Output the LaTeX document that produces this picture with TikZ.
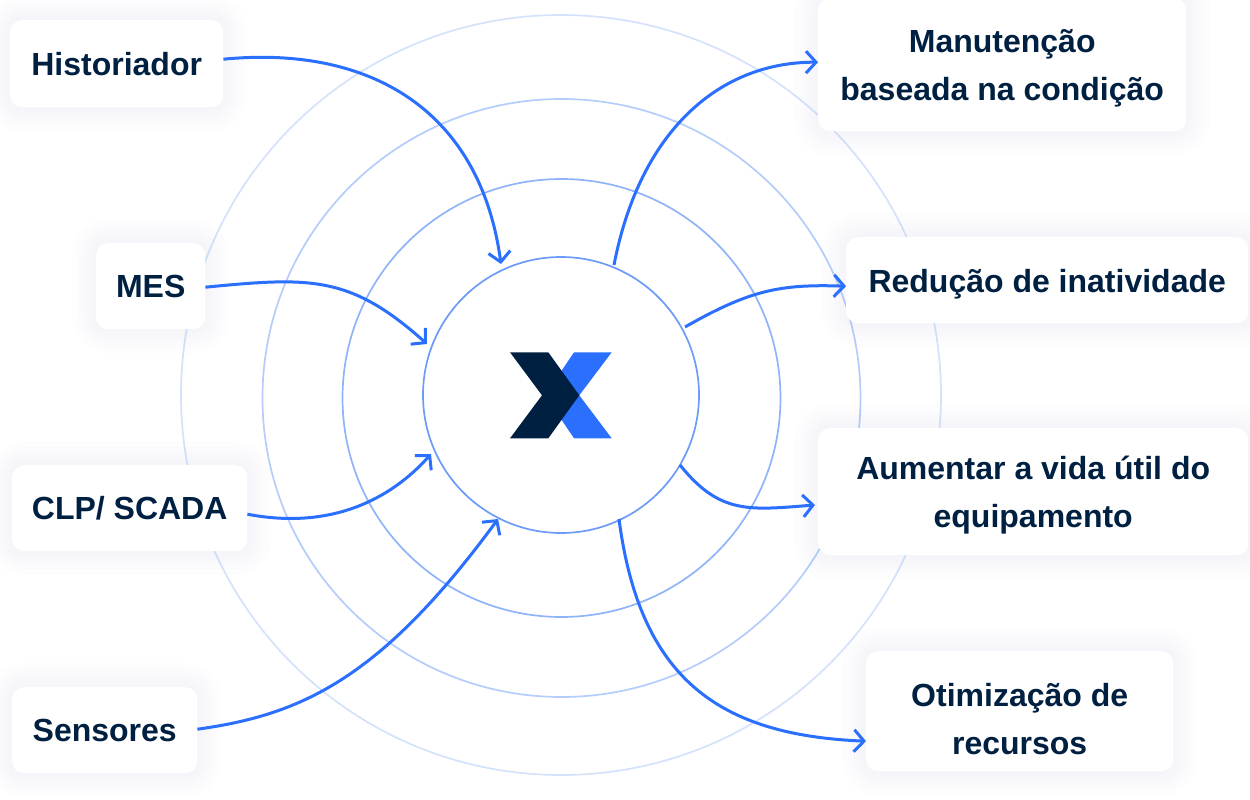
\documentclass[tikz,border=0pt]{standalone}
\usepackage{fontspec}
\setmainfont{Liberation Sans}
\usetikzlibrary{arrows.meta}
\definecolor{inkdark}{HTML}{002042}
\definecolor{linkblue}{HTML}{2B6FFF}
\definecolor{ringa}{HTML}{6C9CF8}
\definecolor{ringb}{HTML}{8FB4FA}
\definecolor{ringc}{HTML}{B5CDFB}
\definecolor{ringd}{HTML}{D5E2FC}
\definecolor{shade}{HTML}{4A6A9A}
\newcommand{\topgap}[1]{\rule{0pt}{#1pt}}
\newcommand{\botgap}{\rule[-7pt]{0pt}{7pt}}
\tikzset{
  x=1pt,y=-1pt,
  ringnode/.style={circle,draw=#1,line width=1.7pt,minimum size=0pt,inner sep=0pt,fill=none},
  softshadow/.style={
    preaction={draw=shade,draw opacity=.006,line width=48pt},
    preaction={draw=shade,draw opacity=.006,line width=36pt},
    preaction={draw=shade,draw opacity=.006,line width=26pt},
    preaction={draw=shade,draw opacity=.006,line width=16pt},
    preaction={draw=shade,draw opacity=.006,line width=8pt}},
  card/.style={softshadow,rectangle,rounded corners=12pt,fill=white,text=inkdark,
    font=\fontsize{32}{48}\selectfont\bfseries,align=center,inner sep=0pt,anchor=north west},
  link/.style={draw=linkblue,line width=3pt,-{Straight Barb[length=10pt,width=22pt,line width=3pt]}},
}
\begin{document}
\begin{tikzpicture}
\useasboundingbox (0,0) rectangle (1250,800);
\fill[white] (0,0) rectangle (1250,800);
\node[ringnode=ringd,minimum size=760pt] (r4) at (561,395) {};
\node[ringnode=ringc,minimum size=598pt] (r3) at (561.5,398) {};
\node[ringnode=ringb,minimum size=438pt] (r2) at (561.5,398) {};
\node[ringnode=ringa,minimum size=276pt] (hub) at (561,395) {};
% logo
\fill[linkblue] (574,352.3) -- (611.7,352.3) -- (579.3,395.3) -- (611.7,438.3) -- (574,438.3) -- (545,395.3) -- cycle;
\fill[inkdark] (510,352.3) -- (548.3,352.3) -- (579.3,395.3) -- (548.3,438.3) -- (510,438.3) -- (542,395.3) -- cycle;
% cards
\node[card,minimum width=213pt,minimum height=87pt] (hist) at (10,20) {Historiador};
\node[card,minimum width=109pt,minimum height=86pt] (mes) at (96,243) {MES};
\node[card,minimum width=235pt,minimum height=86pt] (clp) at (12,465) {CLP/ SCADA};
\node[card,minimum width=185pt,minimum height=86pt] (sens) at (12,687) {Sensores};
\node[card,minimum width=368pt,minimum height=133pt] (manu) at (818,-2) {\topgap{30}Manutenção\\baseada na condição\botgap};
\node[card,minimum width=402pt,minimum height=86pt] (redu) at (846,237) {\topgap{31}Redução de inatividade\botgap};
\node[card,minimum width=430pt,minimum height=127pt] (aume) at (818,428) {\topgap{30}Aumentar a vida útil do\\equipamento\botgap};
\node[card,minimum width=307pt,minimum height=120pt] (otim) at (866,651) {\topgap{45}Otimização de\\recursos\botgap};
% free ends on the hub ring
\coordinate (h1) at (501,264);
\coordinate (h2) at (427,344);
\coordinate (h3) at (431,454);
\coordinate (h4) at (498,519);
\coordinate (o1) at (614,265);
\coordinate (o2) at (685,327);
\coordinate (o3) at (680,465);
\coordinate (o4) at (619,519);
\coordinate (t3) at (815,505);
% connectors
\draw[link] ([yshift=4.5pt]hist.east) .. controls (370,45) and (480,110) .. (h1);
\draw[link] ([yshift=-1pt]mes.east) .. controls (310,277) and (350,275) .. (h2);
\draw[link] ([yshift=-6pt]clp.east) .. controls (330,530) and (390,500) .. (h3);
\draw[link] ([yshift=1pt]sens.east) .. controls (300,715) and (380,680) .. (h4);
\draw[link] (o1) .. controls (640,130) and (720,62) .. ([yshift=2.5pt]manu.west);
\draw[link] (o2) .. controls (750,290) and (780,284) .. ([yshift=-6pt]redu.west);
\draw[link] (o3) .. controls (720,515) and (750,510) .. (t3);
\draw[link] (o4) .. controls (640,680) and (720,735) .. ([yshift=-30pt]otim.west);
\end{tikzpicture}
\end{document}
